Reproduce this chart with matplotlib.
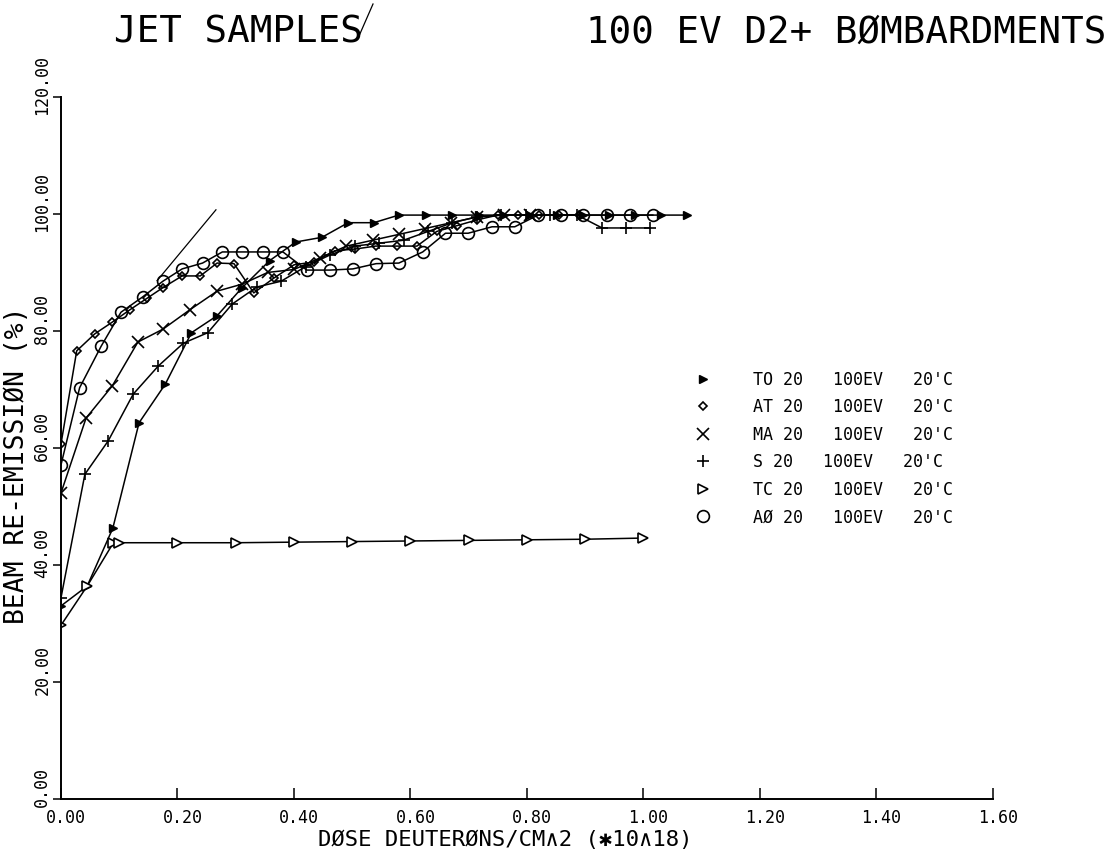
import matplotlib.pyplot as plt
from matplotlib.lines import Line2D
from matplotlib.transforms import ScaledTranslation

# ---- data ----
to_x = [0, 0.045, 0.089, 0.134, 0.179, 0.224, 0.268, 0.311, 0.358, 0.403, 0.448, 0.493,
        0.537, 0.58, 0.627, 0.672, 0.717, 0.761, 0.806, 0.851, 0.896, 0.94, 0.985, 1.03, 1.075]
to_y = [33.0, 36.4, 46.3, 64.3, 70.9, 79.7, 82.6, 87.4, 92.0, 95.2, 96.0, 98.5,
        98.5, 99.8, 99.8, 99.8, 99.8, 99.8, 99.8, 99.8, 99.8, 99.8, 99.8, 99.8, 99.8]

at_x = [0, 0.027, 0.058, 0.088, 0.118, 0.148, 0.175, 0.208, 0.239, 0.268, 0.297, 0.331,
        0.365, 0.40, 0.435, 0.47, 0.505, 0.54, 0.577, 0.611, 0.645, 0.68, 0.715, 0.75,
        0.785, 0.82, 0.855, 0.89]
at_y = [60.7, 76.6, 79.5, 81.5, 83.6, 85.6, 87.4, 89.4, 89.4, 91.6, 91.5, 86.5,
        89.0, 91.3, 91.8, 93.7, 94.0, 94.5, 94.5, 94.5, 97.0, 98.0, 99.0, 99.8,
        99.8, 99.8, 99.8, 99.8]

ma_x = [0, 0.043, 0.088, 0.132, 0.175, 0.221, 0.268, 0.311, 0.355, 0.40, 0.445, 0.49,
        0.535, 0.58, 0.625, 0.67, 0.715, 0.76, 0.805]
ma_y = [52.3, 65.1, 70.6, 78.1, 80.3, 83.6, 86.8, 88.0, 90.0, 90.5, 92.5, 94.5,
        95.5, 96.5, 97.5, 98.5, 99.5, 99.8, 99.8]

s_x = [0, 0.041, 0.081, 0.124, 0.167, 0.21, 0.252, 0.294, 0.336, 0.378, 0.42, 0.462,
       0.504, 0.546, 0.588, 0.63, 0.672, 0.714, 0.756, 0.798, 0.84, 0.886, 0.929, 0.97, 1.011]
s_y = [34.4, 55.5, 61.2, 69.2, 74.0, 77.9, 79.7, 84.6, 87.5, 88.5, 91.0, 93.0,
       94.5, 95.0, 95.5, 97.0, 98.5, 99.5, 99.8, 99.8, 99.8, 99.8, 97.6, 97.6, 97.6]

tc_x = [0, 0.045, 0.09, 0.10, 0.2, 0.3, 0.4, 0.5, 0.6, 0.7, 0.8, 0.9, 1.0]
tc_y = [29.7, 36.4, 43.8, 43.8, 43.8, 43.8, 43.9, 44.0, 44.1, 44.2, 44.3, 44.4, 44.6]

ao_x = [0, 0.032, 0.069, 0.103, 0.14, 0.175, 0.208, 0.243, 0.277, 0.311, 0.347, 0.381,
        0.422, 0.462, 0.501, 0.541, 0.58, 0.621, 0.66, 0.699, 0.74, 0.779, 0.819, 0.858,
        0.897, 0.937, 0.977, 1.016]
ao_y = [57.1, 70.3, 77.4, 83.2, 85.8, 88.5, 90.6, 91.6, 93.5, 93.5, 93.5, 93.5,
        90.4, 90.4, 90.6, 91.5, 91.6, 93.5, 96.7, 96.7, 97.8, 97.8, 99.8, 99.8,
        99.8, 99.8, 99.8, 99.8]

# hand drawn initial-slope line
slope_x = [0.165, 0.266]
slope_y = [88.6, 100.7]

labels = ["TO 20   100EV   20'C", "AT 20   100EV   20'C", "MA 20   100EV   20'C",
          "S 20   100EV   20'C", "TC 20   100EV   20'C", "AØ 20   100EV   20'C"]

xticks = [0, 0.2, 0.4, 0.6, 0.8, 1.0, 1.2, 1.4, 1.6]
yticks = [0, 20, 40, 60, 80, 100, 120]

plt.rcParams['font.family'] = ['DejaVu Sans Mono', 'DejaVu Sans']

fig = plt.figure(figsize=(11.09, 8.5), dpi=100)
ax = fig.add_axes([0.055, 0.06, 0.8404, 0.826])

styles = [
    dict(marker='>', ms=6, mfc='black'),
    dict(marker='D', ms=4.5, mfc='none', mew=1.2),
    dict(marker='x', ms=8, mew=1.2),
    dict(marker='+', ms=9, mew=1.2),
    dict(marker='>', ms=6.5, mfc='white', mew=1.2),
    dict(marker='o', ms=8.5, mfc='none', mew=1.2),
]
series = [(to_x, to_y), (at_x, at_y), (ma_x, ma_y), (s_x, s_y), (tc_x, tc_y), (ao_x, ao_y)]

for (xs, ys), st in zip(series, styles):
    ax.plot(xs, ys, color='black', lw=1.1, mec='black', **st)

ax.plot(slope_x, slope_y, color='black', lw=0.9)

ax.set_xlim(0, 1.6)
ax.set_ylim(0, 120)
ax.spines['top'].set_visible(False)
ax.spines['right'].set_visible(False)
ax.spines['left'].set_linewidth(1.4)
ax.spines['bottom'].set_linewidth(1.4)

ax.set_xticks(xticks)
ax.set_xticklabels([f'{v:.2f}' for v in xticks], fontsize=12)
ax.set_yticks(yticks)
ax.set_yticklabels([f'{v:.2f}' for v in yticks], fontsize=12, rotation=90, va='center')
ax.tick_params(axis='x', direction='in', length=8, width=1.1, pad=7)
ax.tick_params(axis='y', direction='out', length=6, width=1.1, pad=1)

# plotter put its labels a little off the tick marks
for lab in ax.get_xticklabels():
    lab.set_transform(lab.get_transform() + ScaledTranslation(5 / 100, 0, fig.dpi_scale_trans))
for lab in ax.get_yticklabels():
    lab.set_transform(lab.get_transform() + ScaledTranslation(0, 12 / 100, fig.dpi_scale_trans))

ax.set_xlabel('DØSE DEUTERØNS/CM∧2 (✱10∧18)', fontsize=16)
ax.xaxis.set_label_coords(0.477, -0.0585)
ax.xaxis.label.set_va('center')
ax.set_ylabel('BEAM RE-EMISSIØN (%)', fontsize=19)
ax.yaxis.set_label_coords(-0.047, 0.476)
ax.yaxis.label.set_va('center')

fig.text(0.103, 0.962, 'JET SAMPLES', fontsize=27, va='center', ha='left')
fig.text(0.998, 0.962, '100 EV D2+ BØMBARDMENTS', fontsize=27, va='center', ha='right')
fig.add_artist(Line2D([359 / 1109, 373 / 1109], [1 - 36 / 850, 1 - 4 / 850], color='black', lw=0.9))

handles = [Line2D([], [], color='black', linestyle='none', mec='black', **st) for st in styles]
ax.legend(handles, labels, loc='upper left', bbox_to_anchor=(0.68, 0.61), frameon=False,
          fontsize=12, handlelength=1.0, handletextpad=2.5, labelspacing=0.57,
          borderpad=0, borderaxespad=0)

fig.savefig('out.png', dpi=100)
